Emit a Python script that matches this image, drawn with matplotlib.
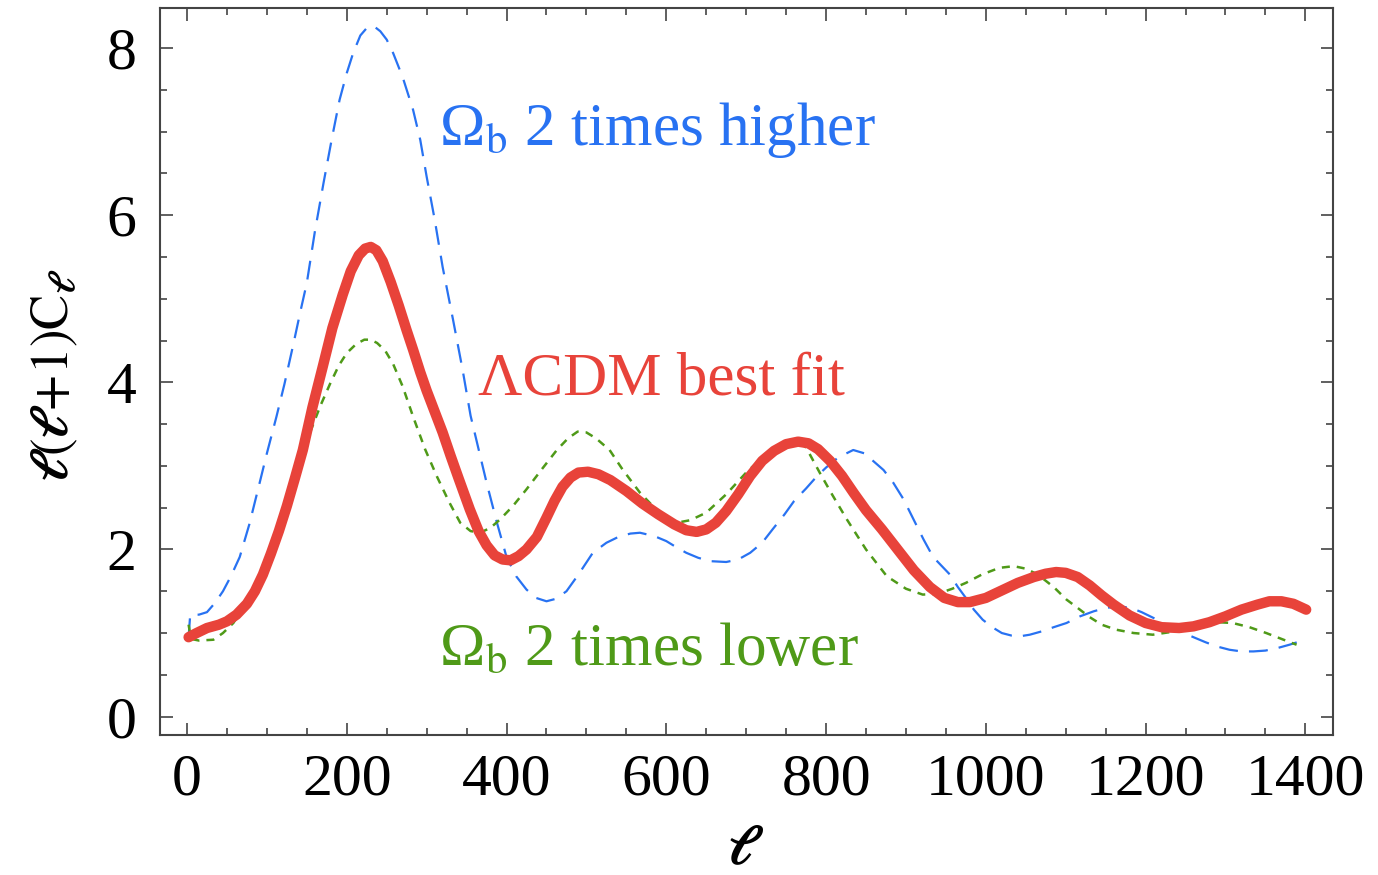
import matplotlib
matplotlib.use('Agg')
from matplotlib import pyplot as plt
from matplotlib.ticker import MultipleLocator

plt.rcParams['font.family'] = ['Liberation Serif', 'DejaVu Serif']
plt.rcParams['mathtext.fontset'] = 'stix'

# LCDM best fit
l_best = [2, 12, 25, 40, 50, 62, 75, 85, 95, 105, 115, 125, 135, 145, 157, 170, 182, 195,
          205, 215, 223, 230, 237, 245, 255, 265, 275, 283, 292, 300, 310, 320, 330, 340,
          354, 365, 375, 385, 395, 405, 415, 425, 438, 450, 460, 470, 480, 490, 502, 515,
          530, 550, 570, 590, 610, 625, 638, 650, 662, 675, 690, 705, 720, 735, 750, 765,
          778, 790, 805, 820, 835, 850, 870, 892, 910, 930, 948, 965, 980, 1000, 1020,
          1040, 1060, 1075, 1088, 1100, 1115, 1130, 1145, 1160, 1180, 1200, 1220, 1242,
          1260, 1280, 1300, 1320, 1340, 1355, 1370, 1385, 1401]
cl_best = [0.95, 1.0, 1.06, 1.1, 1.14, 1.22, 1.35, 1.5, 1.7, 1.95, 2.22, 2.52, 2.85, 3.19,
           3.7, 4.19, 4.65, 5.05, 5.33, 5.52, 5.6, 5.62, 5.58, 5.45, 5.2, 4.92, 4.62, 4.39,
           4.12, 3.9, 3.65, 3.4, 3.12, 2.85, 2.48, 2.22, 2.05, 1.93, 1.88, 1.87, 1.92, 2.0,
           2.15, 2.38, 2.58, 2.75, 2.86, 2.92, 2.93, 2.9, 2.83, 2.7, 2.55, 2.42, 2.3, 2.23,
           2.21, 2.24, 2.32, 2.46, 2.66, 2.88, 3.06, 3.18, 3.26, 3.29, 3.27, 3.2, 3.06, 2.88,
           2.67, 2.47, 2.24, 1.97, 1.75, 1.55, 1.42, 1.37, 1.37, 1.42, 1.51, 1.6, 1.67, 1.71,
           1.73, 1.72, 1.67, 1.57, 1.45, 1.34, 1.21, 1.12, 1.07, 1.06, 1.08, 1.13, 1.2, 1.28,
           1.34, 1.38, 1.38, 1.35, 1.28]

# Omega_b two times higher
l_high = [2, 4, 15, 25, 35, 45, 55, 66, 78, 91, 100, 112, 122, 133, 142, 150, 160, 171, 181,
          191, 200, 208, 217, 226, 234, 242, 250, 258, 270, 283, 292, 300, 310, 320, 333,
          345, 355, 365, 375, 388, 400, 412, 425, 437, 450, 462, 475, 490, 508, 525, 540,
          555, 567, 585, 600, 612, 625, 640, 655, 675, 690, 705, 720, 733, 748, 760, 775,
          788, 800, 815, 834, 848, 860, 872, 884, 897, 910, 922, 934, 945, 955, 965, 975,
          985, 996, 1008, 1020, 1032, 1042, 1055, 1070, 1085, 1101, 1118, 1135, 1150, 1167,
          1182, 1195, 1210, 1226, 1243, 1260, 1275, 1289, 1305, 1320, 1335, 1350, 1365,
          1380, 1393]
cl_high = [0.95, 1.22, 1.22, 1.25, 1.36, 1.5, 1.68, 1.91, 2.3, 2.8, 3.15, 3.59, 3.98, 4.45,
           4.85, 5.19, 5.8, 6.39, 6.9, 7.38, 7.7, 7.94, 8.15, 8.25, 8.26, 8.2, 8.1, 7.94,
           7.65, 7.26, 6.9, 6.46, 5.95, 5.38, 4.75, 4.15, 3.6, 3.2, 2.8, 2.32, 1.91, 1.68,
           1.52, 1.42, 1.38, 1.41, 1.5, 1.7, 1.96, 2.08, 2.15, 2.19, 2.2, 2.16, 2.1, 2.03,
           1.96, 1.9, 1.86, 1.85, 1.88, 1.96, 2.08, 2.24, 2.42, 2.58, 2.73, 2.87, 2.98, 3.1,
           3.19, 3.15, 3.05, 2.95, 2.8, 2.6, 2.35, 2.12, 1.91, 1.8, 1.7, 1.55, 1.42, 1.28,
           1.16, 1.07, 1.0, 0.97, 0.96, 0.98, 1.02, 1.07, 1.12, 1.2, 1.26, 1.3, 1.32, 1.3,
           1.25, 1.18, 1.1, 1.02, 0.95, 0.89, 0.84, 0.8, 0.78, 0.78, 0.79, 0.82, 0.86, 0.9]

# Omega_b two times lower
l_low = [2, 5, 15, 33, 45, 58, 70, 80, 91, 102, 113, 125, 140, 154, 167, 179, 190, 200, 212,
         222, 230, 238, 248, 258, 270, 283, 298, 313, 328, 342, 355, 367, 380, 392, 408,
         425, 445, 463, 477, 489, 500, 512, 529, 545, 567, 590, 613, 630, 650, 675, 700,
         725, 750, 762, 775, 792, 808, 826, 850, 876, 900, 921, 940, 958, 975, 995, 1017,
         1035, 1050, 1065, 1085, 1101, 1115, 1130, 1145, 1163, 1185, 1209, 1230, 1250,
         1267, 1290, 1309, 1330, 1351, 1370, 1389]
cl_low = [1.1, 0.93, 0.91, 0.92, 1.0, 1.12, 1.3, 1.47, 1.68, 1.92, 2.18, 2.48, 2.95, 3.4,
          3.72, 3.98, 4.2, 4.35, 4.46, 4.51, 4.51, 4.47, 4.38, 4.22, 3.95, 3.59, 3.2, 2.87,
          2.57, 2.32, 2.22, 2.2, 2.26, 2.36, 2.52, 2.72, 2.97, 3.19, 3.33, 3.41, 3.4, 3.33,
          3.19, 2.96, 2.68, 2.45, 2.32, 2.35, 2.44, 2.66, 2.92, 3.14, 3.3, 3.32, 3.22, 2.92,
          2.65, 2.36, 2.0, 1.68, 1.53, 1.46, 1.47, 1.53, 1.6, 1.7, 1.78, 1.8, 1.77, 1.7,
          1.55, 1.4, 1.3, 1.19, 1.1, 1.04, 1.0, 0.98, 1.01, 1.06, 1.1, 1.13, 1.12, 1.07,
          1.0, 0.93, 0.86]

red = '#e8433a'
blue = '#2872f2'
green = '#4f9a18'

fig = plt.figure(figsize=(13.78, 8.75), dpi=100)
ax = fig.add_axes([0.116, 0.16, 0.851, 0.831])

ax.plot(l_high, cl_high, color=blue, lw=1.6, dashes=(8.5, 5))
ax.plot(l_low, cl_low, color=green, lw=1.8, dashes=(3.2, 2.8))
ax.plot(l_best, cl_best, color=red, lw=7.5, solid_capstyle='round', solid_joinstyle='round')

ax.set_xlim(-34, 1434)
ax.set_ylim(-0.22, 8.48)

ax.xaxis.set_major_locator(MultipleLocator(200))
ax.xaxis.set_minor_locator(MultipleLocator(50))
ax.yaxis.set_major_locator(MultipleLocator(2))
ax.yaxis.set_minor_locator(MultipleLocator(0.5))
ax.tick_params(which='both', direction='in', top=True, right=True, colors='#444444',
               labelcolor='black', labelsize=43, width=1.2)
ax.tick_params(which='major', length=9)
ax.tick_params(axis='x', which='major', pad=13)
ax.tick_params(axis='y', which='major', pad=17)
ax.tick_params(which='minor', length=5)
for s in ax.spines.values():
    s.set_color('#444444')
    s.set_linewidth(1.5)

ax.set_xlabel(r'$\boldsymbol{\ell}$', fontsize=40)
ax.xaxis.set_label_coords(0.499, -0.122)
ax.set_ylabel(r'$\boldsymbol{\ell}(\boldsymbol{\ell}\!+\!1)\mathrm{C}_{\boldsymbol{\ell}}$',
              fontsize=38)
ax.yaxis.set_label_coords(-0.068, 0.495)

ax.text(316, 7.02, r'Ω$_{\mathrm{b}}$ 2 times higher', color=blue, fontsize=44,
        va='center', ha='left')
ax.text(364, 4.03, r'ΛCDM best fit', color=red, fontsize=44, va='center', ha='left')
ax.text(316, 0.8, r'Ω$_{\mathrm{b}}$ 2 times lower', color=green, fontsize=44,
        va='center', ha='left')

plt.savefig('out.png', dpi=100)
